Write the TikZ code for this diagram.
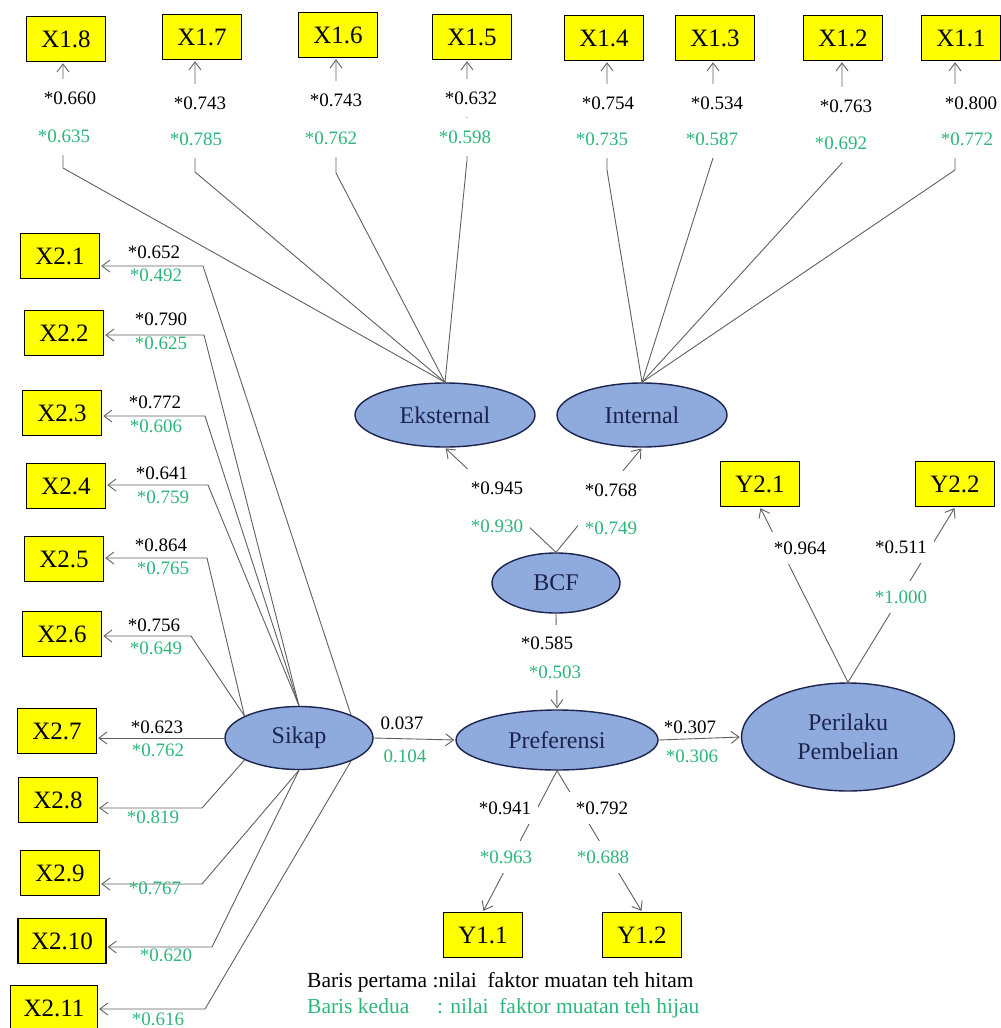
\documentclass[tikz,border=0pt]{standalone}
\usepackage{fontspec}
\setmainfont{Liberation Serif}
\usetikzlibrary{shapes.geometric,arrows.meta}
\definecolor{kuning}{RGB}{255,255,0}
\definecolor{biru}{RGB}{143,170,220}
\definecolor{tepi}{RGB}{28,36,78}
\definecolor{hijau}{RGB}{46,182,122}
\definecolor{garis}{RGB}{95,95,95}

\begin{document}
\begin{tikzpicture}[x=1pt,y=-1pt,
    indikator/.style={rectangle, draw=black, line width=1.5pt, fill=kuning, minimum width=79pt, minimum height=45pt, inner xsep=13pt, font=\fontsize{25}{28}\selectfont},
    laten/.style={ellipse, draw=tepi, line width=1.4pt, fill=biru, text=tepi, align=center, font=\fontsize{24}{29}\selectfont},
    muat/.style={draw=garis, line width=0.9pt, -{Straight Barb[length=8pt,width=12pt]}, shorten >=1pt},
    hitam/.style={font=\fontsize{19}{22}\selectfont, inner sep=1pt},
    hijaulbl/.style={hitam, text=hijau},
    tutup/.style={fill=white, inner xsep=7pt, inner ysep=13pt}
  ]
  \useasboundingbox (0,0) rectangle (1001,1028);

  % indikator atas
  \node[indikator] (x18) at (66,39) {X1.8};
  \node[indikator] (x17) at (202,37) {X1.7};
  \node[indikator] (x16) at (338,35) {X1.6};
  \node[indikator] (x15) at (472,37) {X1.5};
  \node[indikator] (x14) at (604,38) {X1.4};
  \node[indikator] (x13) at (715,38) {X1.3};
  \node[indikator] (x12) at (843,38) {X1.2};
  \node[indikator] (x11) at (961,38) {X1.1};

  % indikator kiri
  \node[indikator] (x21) at (60,256) {X2.1};
  \node[indikator] (x22) at (64,333) {X2.2};
  \node[indikator] (x23) at (62,413) {X2.3};
  \node[indikator] (x24) at (66,486) {X2.4};
  \node[indikator] (x25) at (64,559) {X2.5};
  \node[indikator] (x26) at (62,634) {X2.6};
  \node[indikator] (x27) at (57,731) {X2.7};
  \node[indikator] (x28) at (58,800) {X2.8};
  \node[indikator] (x29) at (60,873) {X2.9};
  \node[indikator] (x210) at (62,941) {X2.10};
  \node[indikator] (x211) at (54,1008) {X2.11};

  % indikator Y
  \node[indikator] (y11) at (483,935) {Y1.1};
  \node[indikator] (y12) at (642,935) {Y1.2};
  \node[indikator] (y21) at (760,484) {Y2.1};
  \node[indikator] (y22) at (955,484) {Y2.2};

  % variabel laten
  \node[laten, minimum width=180pt, minimum height=64pt] (eks) at (445,415) {Eksternal};
  \node[laten, minimum width=170pt, minimum height=64pt] (int) at (642,415) {Internal};
  \node[laten, minimum width=128pt, minimum height=60pt] (bcf) at (556,583) {BCF};
  \node[laten, minimum width=148pt, minimum height=63pt] (sikap) at (299,738) {Sikap};
  \node[laten, minimum width=202pt, minimum height=60pt] (pref) at (557,740) {Preferensi};
  \node[laten, minimum width=213pt, minimum height=108pt] (peri) at (848,737) {Perilaku\\Pembelian};

  % titik belok
  \coordinate (b18) at (63,168);
  \coordinate (b17) at (195,172);
  \coordinate (b16) at (336,173);
  \coordinate (b15) at (467,160);
  \coordinate (b14) at (607,170);
  \coordinate (b13) at (713,158);
  \coordinate (b12) at (842,163);
  \coordinate (b11) at (955,170);
  \coordinate (c21) at (203,266);
  \coordinate (c22) at (204,335);
  \coordinate (c23) at (205,416);
  \coordinate (c24) at (208,485);
  \coordinate (c25) at (207,558);
  \coordinate (c26) at (191,636);
  \coordinate (c28) at (202,808);
  \coordinate (c29) at (202,884);
  \coordinate (c210) at (212,947);
  \coordinate (c211) at (205,1009);

  % garis muatan
  \draw[muat] (eks.north) -- (b18) -- (b18 |- x18.south);
  \draw[muat] (eks.north) -- (b17) -- (b17 |- x17.south);
  \draw[muat] (eks.north) -- (b16) -- (b16 |- x16.south);
  \draw[muat] (eks.north) -- (b15) -- (b15 |- x15.south);
  \draw[muat] (int.north) -- (b14) -- (b14 |- x14.south);
  \draw[muat] (int.north) -- (b13) -- (b13 |- x13.south);
  \draw[muat] (int.north) -- (b12) -- (b12 |- x12.south);
  \draw[muat] (int.north) -- (b11) -- (b11 |- x11.south);

  \draw[muat] (sikap.24) -- (c21) -- (c21 -| x21.east);
  \draw[muat] (sikap.north) -- (c22) -- (c22 -| x22.east);
  \draw[muat] (sikap.north) -- (c23) -- (c23 -| x23.east);
  \draw[muat] (sikap.north) -- (c24) -- (c24 -| x24.east);
  \draw[muat] (sikap.158) -- (c25) -- (c25 -| x25.east);
  \draw[muat] (sikap.158) -- (c26) -- (c26 -| x26.east);
  \draw[muat] (sikap.west) -- (sikap.west -| x27.east);
  \draw[muat] (sikap.202) -- (c28) -- (c28 -| x28.east);
  \draw[muat] (sikap.south) -- (c29) -- (c29 -| x29.east);
  \draw[muat] (sikap.south) -- (c210) -- (c210 -| x210.east);
  \draw[muat] (sikap.336) -- (c211) -- (c211 -| x211.east);

  \draw[muat] (bcf.north) -- (eks.south);
  \draw[muat] (bcf.north) -- (int.south);
  \draw[muat] (bcf.south) -- (pref.north);
  \draw[muat] (sikap.east) -- (pref.west);
  \draw[muat] (pref.east) -- (peri.west);
  \draw[muat] (pref.south) -- (y11.north);
  \draw[muat] (pref.south) -- (y12.north);
  \draw[muat] (peri.north) -- (y21.south);
  \draw[muat] (peri.north) -- (y22.south);

  % nilai X1
  \node[hitam, tutup] (k18) at (70,98) {*0.660};
  \node[hijaulbl, tutup] (h18) at (64,136) {*0.635};
  \node[hitam, tutup] (k17) at (200,103) {*0.743};
  \node[hijaulbl, tutup] (h17) at (196,139) {*0.785};
  \node[hitam, tutup] (k16) at (336,100) {*0.743};
  \node[hijaulbl, tutup] (h16) at (331,138) {*0.762};
  \node[hitam, tutup] (k15) at (471,98) {*0.632};
  \node[hijaulbl, tutup] (h15) at (465,137) {*0.598};
  \node[hitam, tutup] (k14) at (608,103) {*0.754};
  \node[hijaulbl, tutup] (h14) at (602,139) {*0.735};
  \node[hitam, tutup] (k13) at (717,103) {*0.534};
  \node[hijaulbl, tutup] (h13) at (712,139) {*0.587};
  \node[hitam, tutup] (k12) at (846,106) {*0.763};
  \node[hijaulbl, tutup] (h12) at (841,143) {*0.692};
  \node[hitam, tutup] (k11) at (971,103) {*0.800};
  \node[hijaulbl, tutup] (h11) at (967,139) {*0.772};

  % nilai X2
  \node[hitam] (k21) at (154,252) {*0.652};
  \node[hijaulbl] (h21) at (156,275) {*0.492};
  \node[hitam] (k22) at (161,319) {*0.790};
  \node[hijaulbl] (h22) at (161,343) {*0.625};
  \node[hitam] (k23) at (155,402) {*0.772};
  \node[hijaulbl] (h23) at (156,426) {*0.606};
  \node[hitam] (k24) at (162,473) {*0.641};
  \node[hijaulbl] (h24) at (163,497) {*0.759};
  \node[hitam] (k25) at (161,545) {*0.864};
  \node[hijaulbl] (h25) at (163,568) {*0.765};
  \node[hitam] (k26) at (154,625) {*0.756};
  \node[hijaulbl] (h26) at (156,648) {*0.649};
  \node[hitam] (k27) at (157,727) {*0.623};
  \node[hijaulbl] (h27) at (158,750) {*0.762};
  \node[hijaulbl] (h28) at (153,817) {*0.819};
  \node[hijaulbl] (h29) at (155,888) {*0.767};
  \node[hijaulbl] (h210) at (166,955) {*0.620};
  \node[hijaulbl] (h211) at (158,1019) {*0.616};

  % nilai jalur
  \node[hitam, tutup] (k31) at (497,488) {*0.945};
  \node[hijaulbl, tutup] (h31) at (497,526) {*0.930};
  \node[hitam, tutup] (k32) at (611,490) {*0.768};
  \node[hijaulbl, tutup] (h32) at (611,528) {*0.749};
  \node[hitam, tutup, inner ysep=12pt] (k33) at (547,643) {*0.585};
  \node[hijaulbl, tutup, inner ysep=12pt] (h33) at (555,672) {*0.503};
  \node[hitam] (k34) at (402,723) {0.037};
  \node[hijaulbl] (h34) at (405,756) {0.104};
  \node[hitam] (k35) at (690,727) {*0.307};
  \node[hijaulbl] (h35) at (692,756) {*0.306};
  \node[hitam, tutup, inner ysep=10pt] (k41) at (505,808) {*0.941};
  \node[hijaulbl, tutup, inner ysep=10pt] (h41) at (506,857) {*0.963};
  \node[hitam, tutup, inner ysep=10pt] (k42) at (602,808) {*0.792};
  \node[hijaulbl, tutup, inner ysep=10pt] (h42) at (603,857) {*0.688};
  \node[hitam, tutup, inner ysep=10pt] (k51) at (800,548) {*0.964};
  \node[hitam, tutup, inner ysep=10pt] (k52) at (901,547) {*0.511};
  \node[hijaulbl, tutup, inner ysep=10pt] (h52) at (901,597) {*1.000};

  % keterangan
  \node[anchor=west, inner sep=0pt, font=\fontsize{21.5}{24}\selectfont] (ket1) at (307,982) {Baris pertama :nilai\ \ faktor muatan teh hitam};
  \node[anchor=west, inner sep=0pt, text=hijau, font=\fontsize{21.5}{24}\selectfont] (ket2) at (307,1008) {\makebox[130pt][l]{Baris kedua}: nilai\ \ faktor muatan teh hijau};
\end{tikzpicture}
\end{document}
